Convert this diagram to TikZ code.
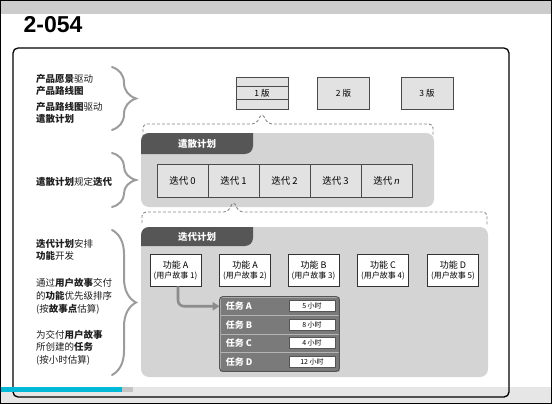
\documentclass[tikz,border=0pt]{standalone}
\usepackage{fontspec}
\setmainfont{Noto Sans CJK SC}
\newfontfamily\titlefont{Liberation Sans}
\usetikzlibrary{arrows.meta,decorations.pathreplacing}

\definecolor{stripgray}{HTML}{CCCCCC}
\definecolor{bandgray}{HTML}{E6E6E6}
\definecolor{barcyan}{HTML}{00B9D9}
\definecolor{bargray}{HTML}{C4C4C4}
\definecolor{panelgray}{HTML}{D4D4D4}
\definecolor{tabgray}{HTML}{565656}
\definecolor{cellgray}{HTML}{E2E2E2}
\definecolor{boxedge}{HTML}{4A4A4A}
\definecolor{featedge}{HTML}{333333}
\definecolor{taskgray}{HTML}{7A7A7A}
\definecolor{taskedge}{HTML}{555555}
\definecolor{rowline}{HTML}{B4B4B4}
\definecolor{bracegray}{HTML}{9C9C9C}
\definecolor{dashgray}{HTML}{888888}
\definecolor{arrowgray}{HTML}{8C8C8C}
\definecolor{notetext}{HTML}{1E1E1E}

\tikzset{
  verbox/.style={draw=boxedge, fill=cellgray, line width=0.8pt, minimum width=52pt, minimum height=32pt, inner sep=0pt, font=\fontsize{8.5}{10}\selectfont},
  itcell/.style={draw=boxedge, fill=cellgray, line width=0.8pt, minimum width=51pt, minimum height=33pt, inner sep=0pt, font=\fontsize{9.5}{11}\selectfont},
  featbox/.style={draw=featedge, fill=white, line width=0.8pt, minimum width=51pt, minimum height=32pt, inner sep=0pt, align=center, font=\fontsize{9}{11}\selectfont},
  taskrow/.style={draw=rowline, fill=taskgray, line width=0.6pt, minimum width=119pt, minimum height=18.5pt, inner sep=0pt},
  tasklbl/.style={anchor=west, text=white, inner sep=0pt, font=\bfseries\fontsize{9}{10}\selectfont},
  hourbox/.style={draw=taskedge, fill=white, line width=0.6pt, minimum width=46pt, minimum height=11pt, inner sep=0pt, font=\fontsize{7}{8}\selectfont},
  tabtext/.style={text=white, font=\bfseries\fontsize{9.5}{10}\selectfont},
  note/.style={anchor=west, align=left, inner sep=0pt, text=notetext, font=\fontsize{9.5}{12.5}\selectfont},
  sidebrace/.style={draw=bracegray, line width=2pt, line cap=round, decorate, decoration={brace, amplitude=24pt}},
  dashbrace/.style={draw=dashgray, line width=0.9pt, dash pattern=on 3pt off 2pt, rounded corners=4pt},
  flow/.style={draw=arrowgray, line width=2.6pt, rounded corners=6pt, -{Triangle[length=7pt,width=8pt]}},
}

\begin{document}
\begin{tikzpicture}[x=1pt,y=-1pt]
    \useasboundingbox (0,0) rectangle (552,404);

    % page strips
    \fill[stripgray] (0,0) rectangle (552,14);
    \fill[bandgray] (0,387) rectangle (552,404);
    \draw[line width=1.3pt, rounded corners=5pt] (13,48) rectangle (509,397);
    \fill[barcyan] (0,387) rectangle (122,392);
    \fill[bargray] (122,387) rectangle (133,392);
    \draw[line width=1pt] (0.5,0.5) rectangle (551.5,403.5);

    \node[font=\titlefont\bfseries\fontsize{23}{23}\selectfont] (ttl) at (53,25) {2-054};

    % left notes
    \node[note, font=\fontsize{9.5}{12}\selectfont] (n1) at (36,85) {{\bfseries 产品愿景}驱动\\{\bfseries 产品路线图}};
    \node[note, font=\fontsize{9.5}{12}\selectfont] (n2) at (36,113) {{\bfseries 产品路线图}驱动\\{\bfseries 遣散计划}};
    \node[note] (n3) at (36,182) {{\bfseries 遣散计划}规定{\bfseries 迭代}};
    \node[note] (n4) at (36,250) {{\bfseries 迭代计划}安排\\{\bfseries 功能}开发};
    \node[note, font=\fontsize{9.5}{13}\selectfont] (n5) at (36,296) {通过{\bfseries 用户故事}交付\\的{\bfseries 功能}优先级排序\\(按{\bfseries 故事点}估算)};
    \node[note] (n6) at (36,347.5) {为交付{\bfseries 用户故事}\\所创建的{\bfseries 任务}\\(按小时估算)};

    \draw[sidebrace] (112,67) -- (112,130);
    \draw[sidebrace] (112,153) -- (112,207);
    \draw[sidebrace] (112,230) -- (112,375);

    % releases
    \node[verbox] (v1) at (262,93) {1 版};
    \node[verbox] (v2) at (343.5,93) {2 版};
    \node[verbox] (v3) at (427,93) {3 版};
    \draw[boxedge, line width=0.8pt] ([yshift=-10pt]v1.north west) -- ([yshift=-10pt]v1.north east);
    \draw[boxedge, line width=0.8pt] ([yshift=10pt]v1.south west) -- ([yshift=10pt]v1.south east);

    \draw[dashbrace] (143,137) -- (143,124) -- (256,124) -- (262,113) -- (268,124) -- (433,124) -- (433,137);

    % release plan
    \fill[panelgray, rounded corners=8pt] (141,133) rectangle (434,207);
    \fill[tabgray] (141,154) -- (141,141) arc[start angle=180, end angle=270, radius=8] -- (253,133) -- (253,146) arc[start angle=0, end angle=90, radius=8] -- cycle;
    \node[tabtext] (relhead) at (197,143.5) {遣散计划};

    \node[itcell] (it0) at (182.5,180.5) {迭代 0};
    \node[itcell] (it1) at (233.5,180.5) {迭代 1};
    \node[itcell] (it2) at (284.5,180.5) {迭代 2};
    \node[itcell] (it3) at (335.5,180.5) {迭代 3};
    \node[itcell] (itn) at (386.5,180.5) {迭代 {\titlefont\itshape n}};

    \draw[dashbrace] (142,223) -- (142,212) -- (228,212) -- (233.5,201) -- (239,212) -- (487,212) -- (487,225);

    % iteration plan
    \fill[panelgray, rounded corners=8pt] (141,227) rectangle (488,377);
    \fill[tabgray] (141,246) -- (141,235) arc[start angle=180, end angle=270, radius=8] -- (253,227) -- (253,238) arc[start angle=0, end angle=90, radius=8] -- cycle;
    \node[tabtext] (ithead) at (197,236.5) {迭代计划};

    \node[featbox] (f1) at (175.5,270) {功能 A\\[-1pt]{\fontsize{8}{9}\selectfont (用户故事 1)}};
    \node[featbox] (f2) at (245,270) {功能 A\\[-1pt]{\fontsize{8}{9}\selectfont (用户故事 2)}};
    \node[featbox] (f3) at (313.5,270) {功能 B\\[-1pt]{\fontsize{8}{9}\selectfont (用户故事 3)}};
    \node[featbox] (f4) at (383,270) {功能 C\\[-1pt]{\fontsize{8}{9}\selectfont (用户故事 4)}};
    \node[featbox] (f5) at (453,270) {功能 D\\[-1pt]{\fontsize{8}{9}\selectfont (用户故事 5)}};

    % tasks
    \node[taskrow] (tA) at (279.5,306.25) {};
    \node[taskrow] (tB) at (279.5,324.75) {};
    \node[taskrow] (tC) at (279.5,343.25) {};
    \node[taskrow] (tD) at (279.5,361.75) {};
    \draw[taskedge, line width=1pt, rounded corners=3pt] (tA.north west) rectangle (tD.south east);

    \node[tasklbl] (tAl) at ([xshift=6pt]tA.west) {任务 A};
    \node[tasklbl] (tBl) at ([xshift=6pt]tB.west) {任务 B};
    \node[tasklbl] (tCl) at ([xshift=6pt]tC.west) {任务 C};
    \node[tasklbl] (tDl) at ([xshift=6pt]tD.west) {任务 D};

    \node[hourbox] (hA) at (312,306.25) {5 小时};
    \node[hourbox] (hB) at (312,324.75) {8 小时};
    \node[hourbox] (hC) at (312,343.25) {4 小时};
    \node[hourbox] (hD) at (312,361.75) {12 小时};

    \draw[flow] ([xshift=2.5pt]f1.south) |- (tA.west);
\end{tikzpicture}
\end{document}
